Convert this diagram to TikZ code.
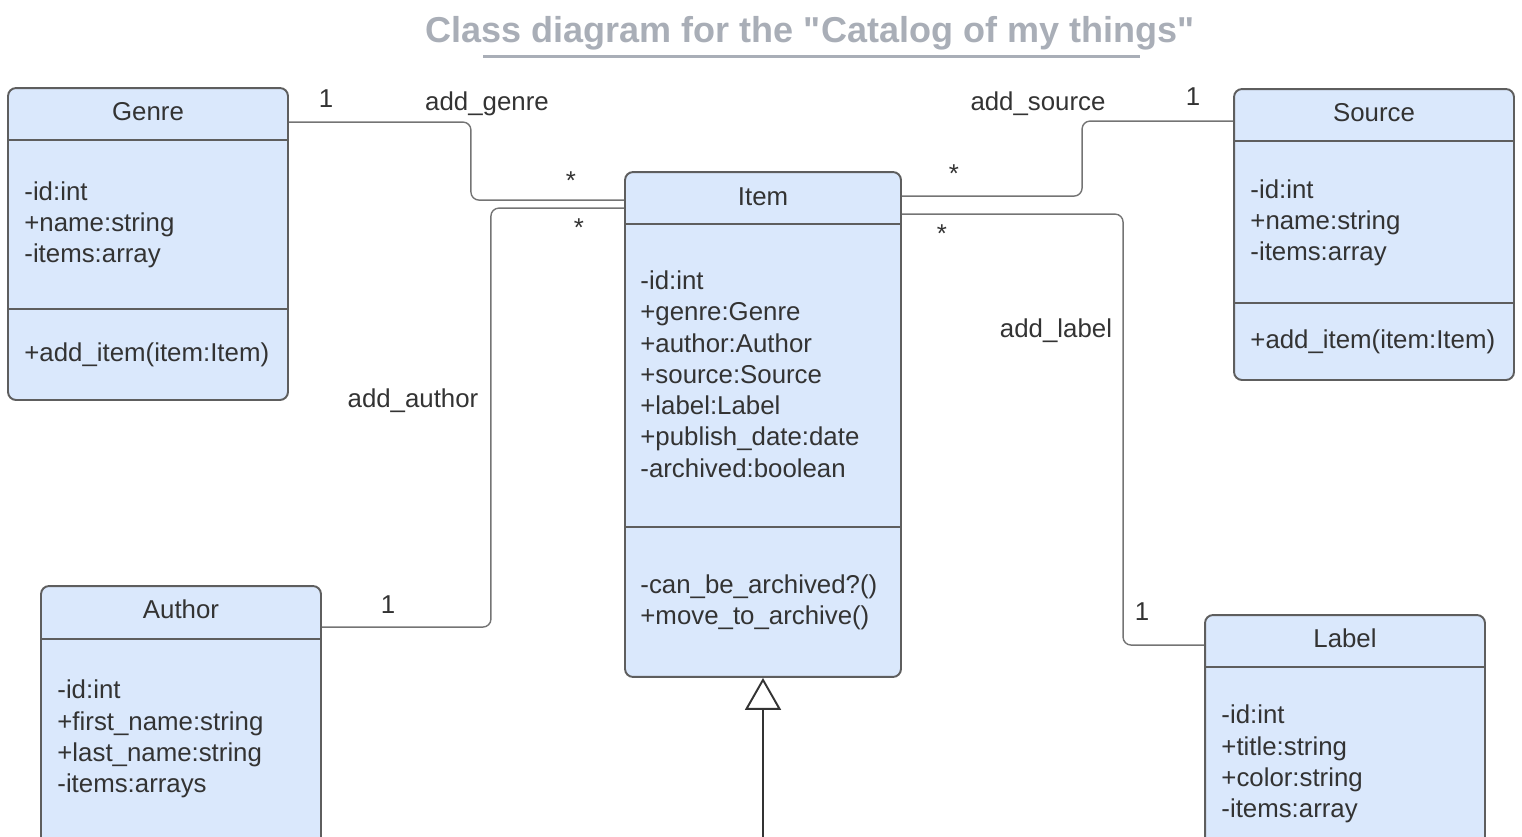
\documentclass[tikz,border=0pt]{standalone}
\usepackage{fontspec}
\setmainfont{Liberation Sans}
\newfontfamily\titlefont[Ligatures=TeXOff]{Liberation Sans}
\usetikzlibrary{positioning,arrows.meta}

\definecolor{boxfill}{HTML}{DAE8FC}
\definecolor{boxline}{HTML}{5E5E5E}
\definecolor{wire}{HTML}{747474}
\definecolor{txt}{HTML}{333333}
\definecolor{ttl}{HTML}{A9AEB7}

\begin{document}
\begin{tikzpicture}[x=0.02cm, y=-0.02cm]
    \tikzstyle{classbox}=[rectangle, draw=boxline, fill=boxfill, line width=1.1pt, rounded corners=0.16cm, minimum width=5.6cm]
    \tikzstyle{cname}=[inner sep=0pt, text=txt, font=\fontsize{14.7}{17.8}\selectfont]
    \tikzstyle{members}=[inner sep=0pt, anchor=west, align=left, text=txt, font=\fontsize{14.7}{17.8}\selectfont]
    \tikzstyle{divider}=[draw=boxline, line width=1.1pt]
    \tikzstyle{assoc}=[draw=wire, line width=0.8pt, rounded corners=0.16cm]
    \tikzstyle{mult}=[inner sep=0pt, text=txt, font=\fontsize{14.7}{17.8}\selectfont]
    \tikzstyle{inherit}=[draw=txt, line width=1.6pt, -{Triangle[open, width=0.72cm, length=0.64cm, line width=1.1pt]}]

    \useasboundingbox (0,0) rectangle (1522,836);
    \clip (0,0) rectangle (1522,836);

    % Title
    \node[inner sep=0pt, text=ttl, font=\titlefont\fontsize{20.5}{24}\selectfont\bfseries] (title) at (810,33) {Class diagram for the "Catalog of my things"};
    \draw[ttl, line width=0.06cm] (483,56) -- (1140,56);

    % Classes
    \node[classbox, minimum height=6.24cm] (genre) at (148,244) {};
    \node[classbox, minimum height=5.82cm] (source) at (1374,234.5) {};
    \node[classbox, minimum width=5.52cm, minimum height=10.1cm] (item) at (763,424.5) {};
    \node[classbox, minimum height=6cm] (author) at (181,736) {};
    \node[classbox, minimum height=6cm] (lbl) at (1345,765) {};

    % Dividers
    \draw[divider] ([yshift=-1.06cm]genre.north west) -- ([yshift=-1.06cm]genre.north east);
    \draw[divider] ([yshift=-4.44cm]genre.north west) -- ([yshift=-4.44cm]genre.north east);
    \draw[divider] ([yshift=-1.06cm]source.north west) -- ([yshift=-1.06cm]source.north east);
    \draw[divider] ([yshift=-4.3cm]source.north west) -- ([yshift=-4.3cm]source.north east);
    \draw[divider] ([yshift=-1.06cm]item.north west) -- ([yshift=-1.06cm]item.north east);
    \draw[divider] ([yshift=-7.12cm]item.north west) -- ([yshift=-7.12cm]item.north east);
    \draw[divider] ([yshift=-1.08cm]author.north west) -- ([yshift=-1.08cm]author.north east);
    \draw[divider] ([yshift=-1.06cm]lbl.north west) -- ([yshift=-1.06cm]lbl.north east);

    % Genre
    \node[cname] (genre-t) at ([yshift=-0.5cm]genre.north) {Genre};
    \node[members] (genre-a) at ([xshift=0.34cm, yshift=-2.76cm]genre.north west) {-id:int\\+name:string\\-items:array};
    \node[members] (genre-m) at ([xshift=0.34cm, yshift=-5.36cm]genre.north west) {+add\_item(item:Item)};

    % Source
    \node[cname] (source-t) at ([yshift=-0.5cm]source.north) {Source};
    \node[members] (source-a) at ([xshift=0.34cm, yshift=-2.7cm]source.north west) {-id:int\\+name:string\\-items:array};
    \node[members] (source-m) at ([xshift=0.34cm, yshift=-5.08cm]source.north west) {+add\_item(item:Item)};

    % Item
    \node[cname] (item-t) at ([yshift=-0.52cm]item.north) {Item};
    \node[members] (item-a) at ([xshift=0.32cm, yshift=-4.06cm]item.north west) {-id:int\\+genre:Genre\\+author:Author\\+source:Source\\+label:Label\\+publish\_date:date\\-archived:boolean};
    \node[members] (item-m) at ([xshift=0.32cm, yshift=-8.62cm]item.north west) {-can\_be\_archived?()\\+move\_to\_archive()};

    % Author
    \node[cname] (author-t) at ([yshift=-0.48cm]author.north) {Author};
    \node[members] (author-a) at ([xshift=0.34cm, yshift=-3.08cm]author.north west) {-id:int\\+first\_name:string\\+last\_name:string\\-items:arrays};

    % Label
    \node[cname] (lbl-t) at ([yshift=-0.48cm]lbl.north) {Label};
    \node[members] (lbl-a) at ([xshift=0.34cm, yshift=-3cm]lbl.north west) {-id:int\\+title:string\\+color:string\\-items:array};

    % Associations
    \draw[assoc] ([yshift=-0.7cm]genre.north east) -- ++(182,0) |- ([yshift=-0.58cm]item.north west);
    \draw[assoc] ([yshift=-0.84cm]author.north east) -- ++(169,0) |- ([yshift=-0.74cm]item.north west);
    \draw[assoc] ([yshift=-0.66cm]source.north west) -- ++(-151,0) |- ([yshift=-0.5cm]item.north east);
    \draw[assoc] ([yshift=-0.62cm]lbl.north west) -- ++(-81,0) |- ([yshift=-0.86cm]item.north east);

    % Multiplicities and roles
    \node[mult] (genre-one) at (326,99) {1};
    \node[mult] (genre-role) at (487,104) {add\_genre};
    \node[mult] (genre-many) at (571,181) {*};
    \node[mult] (author-one) at (388,605) {1};
    \node[mult] (author-role) at (413,401) {add\_author};
    \node[mult] (author-many) at (579,228) {*};
    \node[mult] (source-one) at (1193,97) {1};
    \node[mult] (source-role) at (1038,104) {add\_source};
    \node[mult] (source-many) at (954,174) {*};
    \node[mult] (lbl-one) at (1142,612) {1};
    \node[mult] (lbl-role) at (1056,331) {add\_label};
    \node[mult] (lbl-many) at (942,234) {*};

    % Inheritance
    \coordinate (subclass) at (763,840);
    \draw[inherit] (subclass) -- (item.south);
\end{tikzpicture}
\end{document}
